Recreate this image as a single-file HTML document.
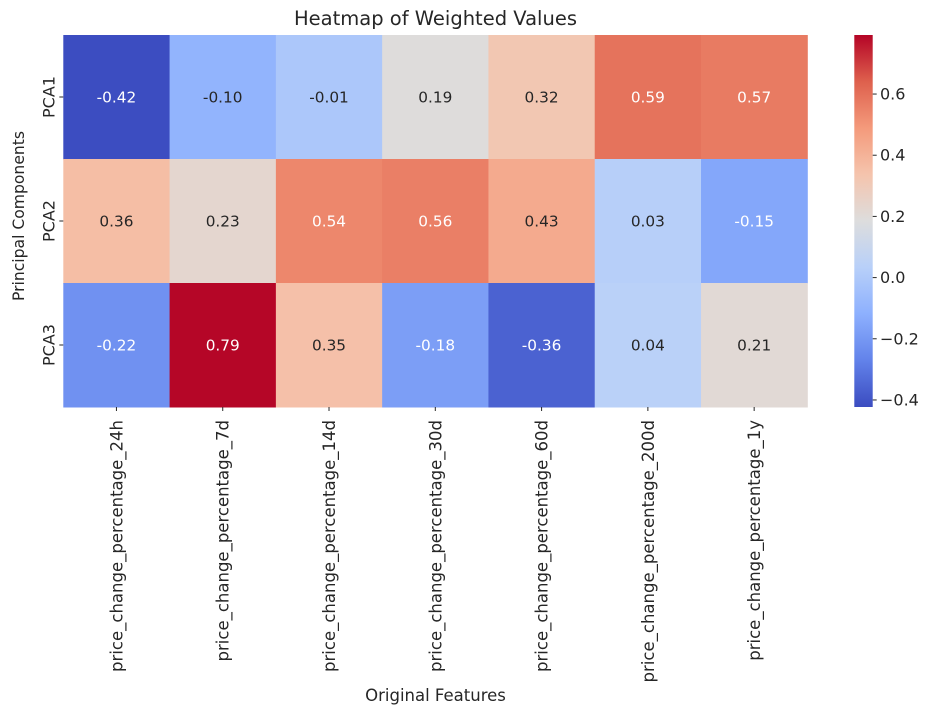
<!DOCTYPE html>
<html><head><meta charset="utf-8"><style>
html,body{margin:0;padding:0;background:#fff}
svg{display:block;font-family:"DejaVu Sans","Liberation Sans",sans-serif}
</style></head><body>
<svg id="chart" width="934" height="718" viewBox="0 0 934 718" xmlns="http://www.w3.org/2000/svg">
<text x="435.5" y="25" text-anchor="middle" font-size="19.5" fill="#262626">Heatmap of Weighted Values</text>
<g id="cells"></g>
<g id="xticks"></g>
<g id="yticks"></g>
<text x="435.5" y="701" text-anchor="middle" font-size="16.5" fill="#262626">Original Features</text>
<text transform="translate(24,216) rotate(-90)" text-anchor="middle" font-size="15.6" fill="#262626">Principal Components</text>
<defs><linearGradient id="cbgrad" x1="0" y1="1" x2="0" y2="0"></linearGradient></defs>
<rect x="854.3" y="35" width="18.4" height="372" fill="url(#cbgrad)"/>
<g id="cbticks"></g>
</svg>
<script>
const features = ["price_change_percentage_24h","price_change_percentage_7d","price_change_percentage_14d","price_change_percentage_30d","price_change_percentage_60d","price_change_percentage_200d","price_change_percentage_1y"];
const components = ["PCA1","PCA2","PCA3"];
const pca1 = [-0.42,-0.10,-0.01,0.19,0.32,0.59,0.57];
const pca2 = [0.36,0.23,0.54,0.56,0.43,0.03,-0.15];
const pca3 = [-0.22,0.79,0.35,-0.18,-0.36,0.04,0.21];
const cbTicks = [-0.4,-0.2,0.0,0.2,0.4,0.6];
const rows = [pca1,pca2,pca3];

const NS="http://www.w3.org/2000/svg";
const X0=63.3,X1=807.3,Y0=35,Y1=407;
const vmin=-0.423,vmax=0.793;
const cw=(X1-X0)/features.length, ch=(Y1-Y0)/components.length;
const xPos=i=>X0+i*cw, yPos=j=>Y0+j*ch;
const cbY=v=>Y1-(v-vmin)/(vmax-vmin)*(Y1-Y0);
const anchors=[[59,76,192],[98,130,234],[141,176,254],[184,208,249],[221,221,221],[245,196,173],[244,154,123],[222,96,77],[180,4,38]];
function cmap(t){t=Math.max(0,Math.min(1,t));const p=t*8,i=Math.min(7,Math.floor(p)),f=p-i;
 const a=anchors[i],b=anchors[i+1];return a.map((c,k)=>Math.round(c+(b[k]-c)*f));}
function lum(c){const l=c.map(v=>{v/=255;return v<=0.03928?v/12.92:Math.pow((v+0.055)/1.055,2.4)});return 0.2126*l[0]+0.7152*l[1]+0.0722*l[2];}
function mk(tag,attrs,parent){const e=document.createElementNS(NS,tag);for(const k in attrs)e.setAttribute(k,attrs[k]);parent.appendChild(e);return e;}

const cells=document.getElementById('cells');
rows.forEach((row,j)=>row.forEach((v,i)=>{
 const c=cmap((v-vmin)/(vmax-vmin));
 const r=mk('rect',{x:xPos(i),y:yPos(j),width:cw+0.5,height:ch+0.5,fill:`rgb(${c})`},cells);
 
 
 const t=mk('text',{x:xPos(i)+cw/2,y:yPos(j)+ch/2+5.5,'text-anchor':'middle','font-size':'15.3',fill:lum(c)<0.408?'#ffffff':'#262626'},cells);
 
 
 t.textContent=v.toFixed(2);
}));
const xt=document.getElementById('xticks');
features.forEach((f,i)=>{
 const cx=xPos(i)+cw/2;
 mk('line',{x1:cx,x2:cx,y1:Y1,y2:Y1+4,stroke:'#262626'},xt);
 const t=mk('text',{transform:`translate(${cx+6},${Y1+13}) rotate(-90)`,'text-anchor':'end','font-size':'16.5','fill':'#262626'},xt);
 
 
 t.textContent=f;
});
const yt=document.getElementById('yticks');
components.forEach((c,j)=>{
 const cy=yPos(j)+ch/2;
 mk('line',{x1:X0-4,x2:X0,y1:cy,y2:cy,stroke:'#262626'},yt);
 const t=mk('text',{transform:`translate(${X0-9},${cy}) rotate(-90)`,'text-anchor':'middle','font-size':'16','fill':'#262626'},yt);
 
 
 t.textContent=c;
});
const grad=document.getElementById('cbgrad');
anchors.forEach((a,k)=>mk('stop',{offset:(k/8),'stop-color':`rgb(${a})`},grad));
const cb=document.getElementById('cbticks');
cbTicks.forEach(v=>{
 const y=cbY(v);
 mk('line',{x1:872.7,x2:876.7,y1:y,y2:y,stroke:'#262626'},cb);
 const t=mk('text',{x:880,y:y+5.5,'font-size':'16','fill':'#262626'},cb);
 
 
 t.textContent=(v<0?'\u2212':'')+Math.abs(v).toFixed(1);
});
</script>
</body></html>
